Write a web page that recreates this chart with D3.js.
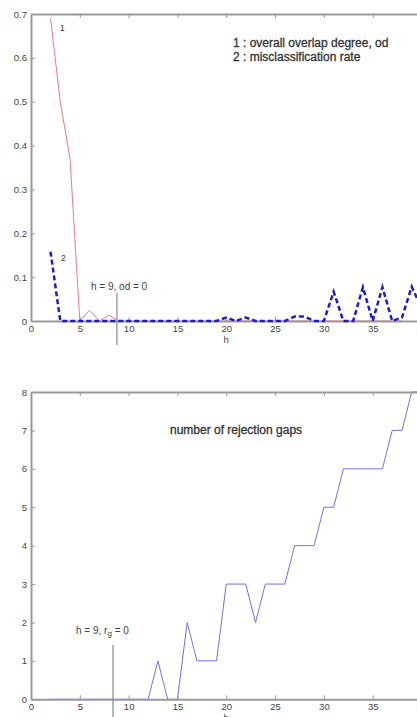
<!DOCTYPE html>
<html>
<head>
<meta charset="utf-8">
<script src="https://cdn.jsdelivr.net/npm/d3@7"></script>
<style>
  body { margin: 0; background: #fff; }
  svg { display: block; font-family: "Liberation Sans", Arial, sans-serif; }
  .axis path, .axis line { stroke: #999; }
  .axis path { stroke-width: 2; }
  .axis text { fill: #444; font-size: 9.5px; }
</style>
</head>
<body>
<svg width="417" height="717"></svg>
<script>
// h values 2..40
const hValues = d3.range(2, 41);

// curve 1 : overall overlap degree, od
const overlapDegree = [0.69, 0.5, 0.37, 0, 0.025, 0, 0.013, 0,
  0, 0, 0, 0, 0, 0, 0, 0, 0, 0,
  0, 0, 0, 0, 0, 0, 0, 0, 0, 0,
  0, 0, 0, 0, 0, 0, 0, 0, 0];

// curve 2 : misclassification rate
const misclassRate = [0.158,
  0, 0, 0, 0, 0, 0, 0, 0, 0, 0, 0, 0, 0, 0, 0, 0, 0,   // h = 3..19
  0.008, 0, 0.008, 0, 0, 0, 0, 0.01, 0.01, 0, 0,      // h = 20..30
  0.067, 0, 0, 0.077, 0, 0.077, 0, 0.008, 0.078, 0.03]; // h = 31..40

// number of rejection gaps
const rejectionGaps = [0, 0, 0, 0, 0, 0, 0, 0, 0, 0, 0, // h = 2..12
  1, 0, 0, 2, 1, 1, 1, 3, 3, 3,                        // h = 13..22
  2, 3, 3, 3, 4, 4, 4, 5, 5, 6,                        // h = 23..32
  6, 6, 6, 6, 7, 7, 8, 8];                             // h = 33..40

const xTicks = [0, 5, 10, 15, 20, 25, 30, 35, 40];
const yTicksTop = [0, 0.1, 0.2, 0.3, 0.4, 0.5, 0.6, 0.7];
const yTicksBottom = [0, 1, 2, 3, 4, 5, 6, 7, 8];

const legendLines = ["1 : overall overlap degree, od", "2 : misclassification rate"];
const markHTop = 8.8;   // annotation line, top panel
const markHBottom = 8.4; // annotation line, bottom panel

let svg = d3.select("svg");

let xScale = d3.scaleLinear().domain([0, 40]).range([31, 421.5]);
let yTop = d3.scaleLinear().domain([0, 0.7]).range([321, 14]);
let yBottom = d3.scaleLinear().domain([0, 8]).range([699.3, 392]);

let drawPanel = (yScale, yTicks, fmt) => {
  let g = svg.append("g");
  let y0 = yScale.range()[0];
  let y1 = yScale.range()[1];

  // box top (ticks only)
  g.append("g")
    .attr("class", "axis")
    .attr("transform", "translate(0," + y1 + ")")
    .call(d3.axisTop(xScale).tickValues(xTicks).tickSize(-4).tickSizeOuter(0).tickFormat(""));

  g.append("g")
    .attr("class", "axis")
    .attr("transform", "translate(0," + y0 + ")")
    .call(d3.axisBottom(xScale).tickValues(xTicks).tickSize(-4).tickSizeOuter(0).tickPadding(4));

  g.append("g")
    .attr("class", "axis")
    .attr("transform", "translate(" + xScale(0) + ",0)")
    .call(d3.axisLeft(yScale).tickValues(yTicks).tickSize(-4).tickSizeOuter(0).tickPadding(4).tickFormat(fmt));

  g.append("text")
    .attr("x", xScale(20))
    .attr("y", y0 + 22)
    .attr("text-anchor", "middle")
    .attr("font-size", 9.5)
    .attr("fill", "#444")
    .text("h");
  return g;
};

// top panel
let lineTop = (vals) => d3.line()
  .x((d, i) => xScale(hValues[i]))
  .y((d) => yTop(d))(vals);

svg.append("path")
  .attr("d", lineTop(overlapDegree))
  .attr("fill", "none")
  .attr("stroke", "#f07888")
  .attr("stroke-width", 1);

drawPanel(yTop, yTicksTop, (d) => d === 0 ? "0" : d3.format(".1f")(d));

svg.append("path")
  .attr("d", lineTop(misclassRate))
  .attr("fill", "none")
  .attr("stroke", "#1c1cc8")
  .attr("stroke-width", 2.5)
  .attr("stroke-dasharray", "5,3");

svg.append("text").attr("x", 60).attr("y", 31).attr("font-size", 8.5).attr("fill", "#333").text("1");
svg.append("text").attr("x", 61).attr("y", 261).attr("font-size", 8.5).attr("fill", "#333").text("2");

svg.selectAll(".legend")
  .data(legendLines)
  .enter()
  .append("text")
  .attr("x", 233)
  .attr("y", (d, i) => 47 + i * 14)
  .attr("font-size", 12)
  .attr("fill", "#333")
  .attr("stroke", "#333")
  .attr("stroke-width", 0.3)
  .text((d) => d);

svg.append("line")
  .attr("x1", xScale(markHTop)).attr("x2", xScale(markHTop))
  .attr("y1", 293).attr("y2", 345)
  .attr("stroke", "#888").attr("stroke-width", 1.2);
svg.append("text")
  .attr("x", 91).attr("y", 290)
  .attr("font-size", 10).attr("fill", "#444")
  .text("h = 9, od = 0");

// bottom panel
let lineBottom = d3.line()
  .x((d, i) => xScale(hValues[i]))
  .y((d) => yBottom(d));

svg.append("path")
  .attr("d", lineBottom(rejectionGaps))
  .attr("fill", "none")
  .attr("stroke", "#7070ee")
  .attr("stroke-width", 1);

drawPanel(yBottom, yTicksBottom, d3.format("d"));

svg.append("text")
  .attr("x", 170).attr("y", 434)
  .attr("font-size", 12)
  .attr("fill", "#333")
  .attr("stroke", "#333")
  .attr("stroke-width", 0.3)
  .text("number of rejection gaps");

svg.append("line")
  .attr("x1", xScale(markHBottom)).attr("x2", xScale(markHBottom))
  .attr("y1", 645).attr("y2", 717)
  .attr("stroke", "#888").attr("stroke-width", 1.2);
let ann = svg.append("text")
  .attr("x", 76).attr("y", 634)
  .attr("font-size", 10).attr("fill", "#444");
ann.append("tspan").text("h = 9, r");
ann.append("tspan").attr("font-size", 8).attr("dy", 2).text("g");
ann.append("tspan").attr("dy", -2).text(" = 0");
</script>
</body>
</html>
